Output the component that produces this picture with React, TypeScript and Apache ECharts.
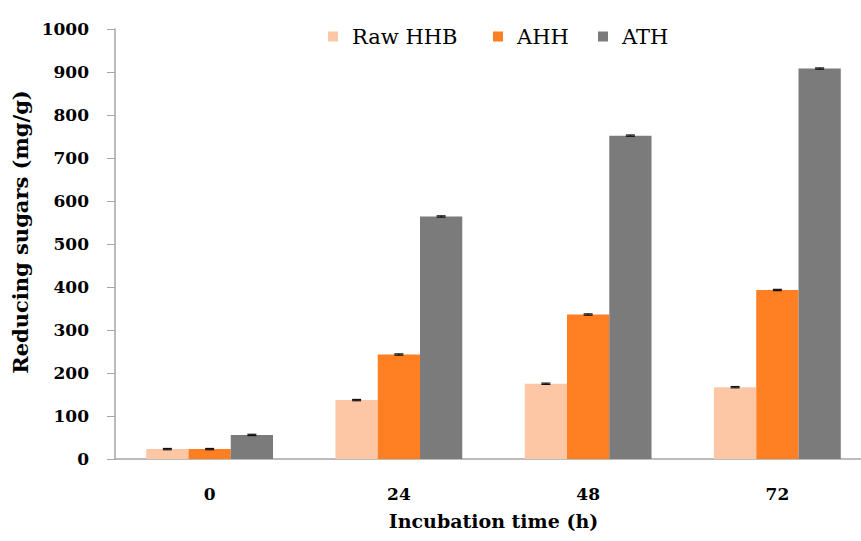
import React, { useEffect, useRef } from "react";
import * as echarts from "echarts";

const categories = ["0", "24", "48", "72"];
const seriesNames = ["Raw HHB", "AHH", "ATH"];
const rawHHB = [23, 137, 175, 167];
const ahh = [23, 243, 336, 393];
const ath = [56, 564, 752, 908];
const rawErr = [1.5, 1.5, 1.5, 1.5];
const ahhErr = [1.5, 1.5, 1.5, 1.5];
const athErr = [1.5, 1.5, 1.5, 1.5];
const colors = ["#FDC7A6", "#FF7F22", "#7B7B7B"];
const legendLeft = [328, 493, 598];

const FONT = "DejaVu Serif";
const CAT_GAP = 0.33;

export default function App() {
  const ref = useRef<HTMLDivElement>(null);
  useEffect(() => {
    if (!ref.current) return;
    const chart = echarts.init(ref.current, undefined, { renderer: "svg" });
    const values = [rawHHB, ahh, ath];
    const errs = [rawErr, ahhErr, athErr];

    const barSeries = seriesNames.map((name, i) => ({
      type: "bar",
      name,
      data: values[i],
      barGap: "0%",
      barCategoryGap: "33%",
      itemStyle: { color: colors[i] },
    }));

    const errSeries = seriesNames.map((name, i) => ({
      type: "custom",
      name: name + " err",
      data: values[i].map((v, j) => [j, v, errs[i][j]]),
      z: 10,
      silent: true,
      renderItem: (params: any, api: any) => {
        const cat = api.value(0);
        const v = api.value(1);
        const e = api.value(2);
        const band = api.size([1, 0])[0];
        const bw = (band * (1 - CAT_GAP)) / 3;
        const center = api.coord([cat, v]);
        const x = center[0] + (i - 1) * bw;
        const top = api.coord([cat, v + e])[1];
        const bot = api.coord([cat, v - e])[1];
        const half = 4.5;
        const style = { stroke: "#111", lineWidth: 1.2 };
        return {
          type: "group",
          children: [
            { type: "line", shape: { x1: x, y1: top, x2: x, y2: bot }, style },
            { type: "line", shape: { x1: x - half, y1: top, x2: x + half, y2: top }, style },
            { type: "line", shape: { x1: x - half, y1: bot, x2: x + half, y2: bot }, style },
          ],
        };
      },
    }));

    const legends = seriesNames.map((name, i) => ({
      data: [name],
      top: 26,
      left: legendLeft[i],
      padding: 0,
      itemWidth: 10,
      itemHeight: 10,
      icon: "rect",
      textStyle: {
        fontFamily: FONT,
        fontSize: 21,
        color: "#000",
        padding: [0, 0, 0, 9],
      },
    }));

    chart.setOption({
      animation: false,
      backgroundColor: "#fff",
      textStyle: { fontFamily: FONT },
      legend: legends,
      grid: {
        left: 115,
        top: 29,
        width: 757,
        height: 430,
        containLabel: false,
        outerBoundsMode: "none",
      },
      xAxis: {
        type: "category",
        data: categories,
        name: "Incubation time (h)",
        nameLocation: "middle",
        nameGap: 52,
        nameTextStyle: { fontFamily: FONT, fontSize: 19, fontWeight: "bold", color: "#000" },
        axisLine: { lineStyle: { color: "#A6A6A6", width: 1.5 } },
        axisTick: { show: false },
        axisLabel: { fontFamily: FONT, fontSize: 17, fontWeight: "bold", color: "#000", margin: 26 },
      },
      yAxis: {
        type: "value",
        min: 0,
        max: 1000,
        interval: 100,
        name: "Reducing sugars (mg/g)",
        nameLocation: "middle",
        nameGap: 80,
        nameTextStyle: {
          fontFamily: FONT,
          fontSize: 21,
          fontWeight: "bold",
          color: "#000",
          padding: [0, 0, 0, 24],
        },
        axisLine: { show: true, lineStyle: { color: "#A6A6A6", width: 1.5 } },
        axisTick: { show: true, inside: false, length: 8, lineStyle: { color: "#A6A6A6" } },
        splitLine: { show: false },
        axisLabel: {
          fontFamily: FONT,
          fontSize: 17,
          fontWeight: "bold",
          color: "#000",
          margin: 26,
          formatter: (v: number) => String(v),
        },
      },
      series: [...barSeries, ...errSeries],
    });
    return () => chart.dispose();
  }, []);
  return (
    <div
      ref={ref}
      style={{ position: "fixed", left: 0, top: 0, width: 861, height: 541, background: "#fff" }}
    />
  );
}
